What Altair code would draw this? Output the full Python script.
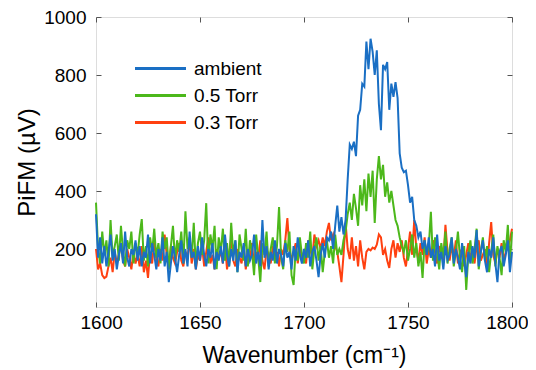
import altair as alt
import pandas as pd

wavenumber = list(range(1600, 1801))

ambient = [
    320, 170, 240, 150, 210, 140, 190, 250, 160, 200,
    130, 180, 220, 150, 260, 170, 140, 200, 180, 230,
    160, 210, 140, 190, 170, 250, 150, 220, 180, 130,
    200, 160, 240, 140, 190, 86, 150, 210, 170, 120,
    180, 230, 150, 200, 140, 260, 170, 190, 130, 210,
    160, 240, 180, 140, 200, 170, 220, 130, 190, 160,
    210, 150, 250, 180, 140, 200, 160, 230, 120, 190,
    170, 220, 140, 200, 160, 180, 250, 150, 190, 140,
    300, 170, 210, 130, 190, 160, 230, 150, 200, 180,
    140, 220, 170, 190, 130, 210, 160, 240, 180, 150,
    200, 170, 230, 140, 190, 210, 160, 103, 180, 220,
    170, 240, 230, 260, 200, 280, 350, 260, 310, 250,
    300, 440, 560, 545, 570, 520, 660, 680, 770, 760,
    915, 820, 925, 880, 800, 885, 700, 610, 835, 820,
    845, 680, 770, 725, 775, 720, 530, 480, 465, 470,
    420, 360, 380, 300, 280, 240, 260, 200, 230, 180,
    240, 170, 200, 140, 250, 160, 190, 130, 210, 162,
    180, 240, 150, 200, 170, 130, 220, 160, 103, 190,
    150, 210, 170, 265, 140, 190, 230, 160, 120, 200,
    170, 240, 150, 86, 190, 210, 140, 180, 230, 120,
    190,
]

torr_05 = [
    360, 200, 150, 260, 180, 230, 140, 300, 170, 210,
    250, 160, 280, 190, 140, 230, 200, 260, 150, 220,
    180, 250, 303, 160, 210, 140, 240, 190, 270, 170,
    220, 150, 260, 200, 240, 130, 210, 280, 160, 230,
    190, 260, 150, 330, 200, 240, 170, 290, 140, 220,
    260, 180, 230, 358, 150, 250, 200, 280, 130, 240,
    190, 270, 160, 220, 140, 290, 180, 230, 120, 250,
    200, 160, 270, 140, 230, 190, 110, 250, 170, 86,
    220, 180, 260, 140, 200, 240, 150, 210, 345, 170,
    130, 230, 190, 260, 110, 76, 200, 160, 240, 180,
    150, 220, 170, 260, 130, 200, 240, 160, 210, 120,
    190, 230, 170, 210, 150, 250, 180, 200, 180, 230,
    260, 320, 360, 300, 390, 340, 280, 420, 350, 440,
    330, 460, 380, 470, 290, 440, 520, 440, 490, 380,
    430, 360, 400, 350, 300, 280, 240, 210, 190, 230,
    160, 200, 250, 170, 220, 140, 190, 100, 230, 180,
    210, 328, 160, 240, 190, 130, 220, 170, 260, 150,
    200, 240, 140, 190, 260, 170, 120, 210, 59, 180,
    230, 150, 200, 270, 130, 190, 240, 160, 210, 120,
    190, 250, 140, 210, 170, 110, 230, 190, 283, 150,
    260,
]

torr_03 = [
    200, 130, 150, 110, 100, 105, 140, 170, 120, 190,
    150, 180, 220, 160, 140, 200, 170, 130, 190, 150,
    180, 140, 210, 120, 160, 100, 190, 150, 230, 170,
    140, 200, 160, 250, 180, 130, 210, 170, 150, 190,
    220, 160, 140, 190, 170, 230, 150, 200, 130, 180,
    160, 210, 140, 190, 240, 150, 180, 130, 200, 170,
    190, 150, 220, 130, 180, 240, 160, 140, 200, 170,
    150, 210, 130, 180, 160, 220, 140, 190, 170, 230,
    160, 130, 200, 180, 150, 210, 170, 190, 140, 200,
    180, 230, 307, 200, 160, 190, 220, 150, 210, 170,
    190, 150, 230, 200, 170, 250, 210, 230, 200, 240,
    210, 260, 290, 230, 250, 210, 190, 140, 86, 180,
    290, 200, 165, 240, 160, 210, 140, 230, 170, 130,
    190, 200, 195, 205, 200, 215, 250, 240, 180, 200,
    160, 135, 200, 230, 170, 220, 190, 230, 170, 140,
    200, 260, 180, 300, 200, 160, 220, 180, 240, 150,
    200, 170, 230, 190, 150, 210, 180, 160, 283, 190,
    160, 210, 170, 230, 150, 190, 200, 140, 180, 220,
    170, 190, 150, 210, 230, 160, 180, 200, 140, 220,
    293, 180, 150, 200, 170, 220, 160, 190, 210, 230,
    270,
]

series_names = ["ambient", "0.5 Torr", "0.3 Torr"]
series_colors = ["#1a6fc4", "#4cb81b", "#ff4010"]
x_ticks = [1600, 1650, 1700, 1750, 1800]
y_ticks = [200, 400, 600, 800, 1000]

rows = []
for name, vals in zip(series_names, [ambient, torr_05, torr_03]):
    for w, v in zip(wavenumber, vals):
        rows.append({"wavenumber": w, "value": v, "series": name})
df = pd.DataFrame(rows)

FONT = "Liberation Sans"
W, H = 416, 290

xscale = alt.Scale(domain=[1600, 1800], nice=False, zero=False)
yscale = alt.Scale(domain=[0, 1000], nice=False)
color = alt.Color(
    "series:N",
    scale=alt.Scale(domain=series_names, range=series_colors),
    legend=alt.Legend(
        title=None, orient="none", legendX=55, legendY=42,
        symbolType="M-5,0H5", symbolSize=104, symbolStrokeWidth=3,
        symbolFillColor="transparent",
        labelFont=FONT, labelFontSize=19, labelColor="#000",
        labelOffset=24, rowPadding=7, padding=0,
    ),
)

x_main = alt.X("wavenumber:Q", scale=xscale, axis=alt.Axis(
    orient="bottom", values=x_ticks, ticks=False, domain=False, grid=False,
    labelFont=FONT, labelFontSize=19, labelColor="#000", labelPadding=6,
    labelFlush=True, labelFlushOffset=16,
    title="Wavenumber (cm⁻¹)", titleFont=FONT, titleFontSize=23,
    titleFontWeight="normal", titleColor="#000", titlePadding=12,
    format="d"))
y_main = alt.Y("value:Q", scale=yscale, axis=alt.Axis(
    orient="left", values=y_ticks, ticks=False, domain=False, grid=False,
    labelFont=FONT, labelFontSize=19, labelColor="#000", labelPadding=10,
    title="PiFM (µV)", titleFont=FONT, titleFontSize=24,
    titleFontWeight="normal", titleColor="#000", titlePadding=4,
    format="d", labelFlush=False))

def series_layer(name):
    return alt.Chart(df).transform_filter(
        alt.datum.series == name
    ).mark_line(strokeWidth=2).encode(x=x_main, y=y_main, color=color)

data_layers = alt.layer(*[series_layer(n) for n in ["0.3 Torr", "0.5 Torr", "ambient"]])

def tick_axis(orient, offset, vals):
    return alt.Axis(orient=orient, offset=offset, values=vals, labels=False,
                    title=None, domain=False, grid=False, ticks=True,
                    tickSize=5, tickColor="#555", tickWidth=1)

ticks_a = alt.Chart(df).mark_point(opacity=0).encode(
    x=alt.X("wavenumber:Q", scale=xscale, axis=tick_axis("top", -H, x_ticks)),
    y=alt.Y("value:Q", scale=yscale, axis=tick_axis("right", -W, y_ticks)),
)
ticks_b = alt.Chart(df).mark_point(opacity=0).encode(
    x=alt.X("wavenumber:Q", scale=xscale, axis=tick_axis("bottom", -H, x_ticks)),
    y=alt.Y("value:Q", scale=yscale, axis=tick_axis("left", -W, y_ticks)),
)

chart = alt.layer(data_layers, ticks_a, ticks_b).resolve_axis(
    x="independent", y="independent"
).properties(
    width=W, height=H,
    autosize=alt.AutoSizeParams(type="none"),
    padding={"left": 88, "top": 9, "right": 16, "bottom": 61},
).configure_view(stroke="#888888", strokeWidth=1).configure(background="white")

chart.save("out.html", embed_options={"renderer": "svg", "actions": False})
